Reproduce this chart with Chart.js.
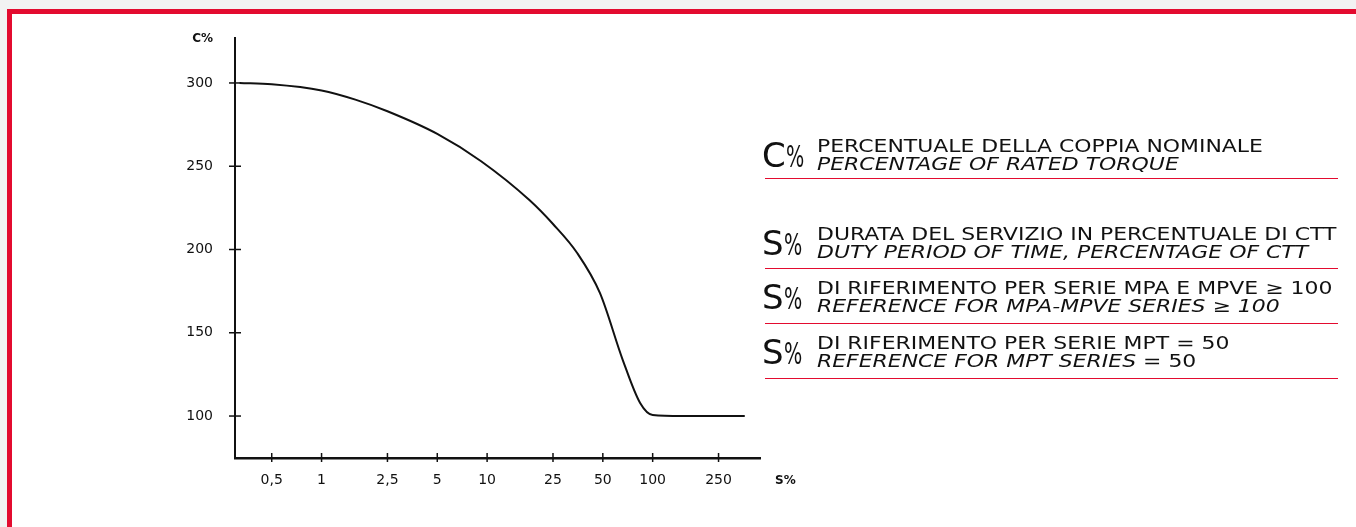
<!DOCTYPE html>
<html>
<head>
<meta charset="utf-8">
<script src="https://cdn.jsdelivr.net/npm/chart.js@4.4.0/dist/chart.umd.min.js"></script>
<style>
  html, body { margin: 0; padding: 0; background: #f2f2f2; }
  #page {
    position: absolute; left: 7px; top: 9px; width: 1349px; height: 518px;
    background: #fff; border-left: 5px solid #e30b2f; border-top: 5px solid #e30b2f;
    box-sizing: border-box;
  }
  #chartBox { position: absolute; left: 0; top: 0; width: 800px; height: 527px; }
  .item { position: absolute; left: 762px; width: 576px; height: 36px; font-family: "DejaVu Sans", sans-serif; color: #111; }
  .sym { position: absolute; left: 0; top: 0; font-size: 34px; line-height: 36px; white-space: nowrap; }
  .sym span { display: inline-block; font-size: 31px; transform: scaleX(0.62); transform-origin: 0 50%; }
  .txt {
    position: absolute; left: 55px; top: 0; font-size: 17px; line-height: 18px; white-space: nowrap;
    transform: scaleX(1.29); transform-origin: 0 0;
  }
  .txt i { font-style: italic; }
  .rule { position: absolute; left: 765px; width: 573px; height: 0; border-top: 1.5px solid #e30b2f; }
</style>
</head>
<body>
<div id="page"></div>
<div id="chartBox"><canvas id="torqueChart"></canvas></div>

<div class="item" style="top:137px">
  <div class="sym">C<span>%</span></div>
  <div class="txt">PERCENTUALE DELLA COPPIA NOMINALE<br><i>PERCENTAGE OF RATED TORQUE</i></div>
</div>
<div class="rule" style="top:178px"></div>

<div class="item" style="top:225px">
  <div class="sym">S<span>%</span></div>
  <div class="txt">DURATA DEL SERVIZIO IN PERCENTUALE DI CTT<br><i>DUTY PERIOD OF TIME, PERCENTAGE OF CTT</i></div>
</div>
<div class="rule" style="top:268px"></div>

<div class="item" style="top:279px">
  <div class="sym">S<span>%</span></div>
  <div class="txt">DI RIFERIMENTO PER SERIE MPA E MPVE ≥ 100<br><i>REFERENCE FOR MPA-MPVE SERIES ≥ 100</i></div>
</div>
<div class="rule" style="top:323px"></div>

<div class="item" style="top:334px">
  <div class="sym">S<span>%</span></div>
  <div class="txt">DI RIFERIMENTO PER SERIE MPT = 50<br><i>REFERENCE FOR MPT SERIES</i> = 50</div>
</div>
<div class="rule" style="top:378px"></div>

<script>
// durata servizio S% (asse log) e coppia C%
const sValues = [0.32, 0.5, 1, 1.6, 2.5, 5, 9.2, 18, 25, 35, 48, 66, 84, 100, 150, 360];
const cValues = [300, 299.2, 295.5, 290, 283, 269.4, 253, 229.7, 215.3, 197.9, 173.9, 133.6, 107.8, 100.6, 100, 100];

const xTicks = [0.5, 1, 2.5, 5, 10, 25, 50, 100, 250];
const yTicks = [100, 150, 200, 250, 300];

const tickFont = { family: "DejaVu Sans", size: 14 };

// piccole croci sugli assi + etichette C% / S%
const axisMarks = {
    id: "axisMarks",
    afterDraw(chart) {
        const ctx = chart.ctx;
        const x = chart.scales.x;
        const y = chart.scales.y;
        const area = chart.chartArea;
        ctx.save();
        ctx.strokeStyle = "#111";
        ctx.lineWidth = 1.5;
        xTicks.forEach(v => {
            const px = x.getPixelForValue(v);
            ctx.beginPath();
            ctx.moveTo(px, area.bottom - 5);
            ctx.lineTo(px, area.bottom + 4);
            ctx.stroke();
        });
        yTicks.forEach(v => {
            const py = y.getPixelForValue(v);
            ctx.beginPath();
            ctx.moveTo(area.left - 6, py);
            ctx.lineTo(area.left + 6, py);
            ctx.stroke();
        });
        ctx.fillStyle = "#111";
        ctx.font = "bold 12px 'DejaVu Sans'";
        ctx.textBaseline = "middle";
        ctx.textAlign = "right";
        ctx.fillText("C%", area.left - 22, area.top + 1);
        ctx.textAlign = "left";
        ctx.fillText("S%", area.right + 15, area.bottom + 23);
        ctx.restore();
    }
};

const ctx = document.getElementById("torqueChart").getContext("2d");
new Chart(ctx, {
    type: "line",
    data: {
        datasets: [{
            data: sValues.map((s, i) => ({ x: s, y: cValues[i] })),
            borderColor: "#111",
            borderWidth: 2,
            pointRadius: 0,
            fill: false,
            cubicInterpolationMode: "monotone"
        }]
    },
    options: {
        responsive: true,
        maintainAspectRatio: false,
        animation: false,
        layout: { padding: { top: 38, right: 40, left: 0, bottom: 0 } },
        plugins: { legend: { display: false }, tooltip: { enabled: false } },
        scales: {
            x: {
                type: "logarithmic",
                min: 0.317,
                max: 445,
                afterBuildTicks: scale => { scale.ticks = xTicks.map(v => ({ value: v })); },
                afterFit: scale => { scale.height = 69; },
                grid: { display: false, drawTicks: false },
                border: { display: true, color: "#111", width: 2.5 },
                ticks: {
                    autoSkip: false, maxRotation: 0, padding: 14, color: "#111", font: tickFont,
                    callback: v => String(v).replace(".", ",")
                }
            },
            y: {
                min: 74.8,
                max: 327,
                afterBuildTicks: scale => { scale.ticks = yTicks.map(v => ({ value: v })); },
                afterFit: scale => { scale.width = 235; },
                grid: { display: false, drawTicks: false },
                border: { display: true, color: "#111", width: 2 },
                ticks: { padding: 22, color: "#111", font: tickFont }
            }
        }
    },
    plugins: [axisMarks]
});
</script>
</body>
</html>
